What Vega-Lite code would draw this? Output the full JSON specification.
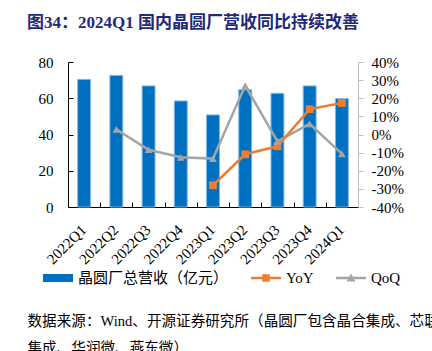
{
  "$schema": "https://vega.github.io/schema/vega-lite/v6.json",
  "width": 290,
  "height": 145,
  "autosize": {"type": "none"},
  "padding": {"left": 68, "top": 62, "right": 74, "bottom": 144},
  "title": {
    "text": "图34：2024Q1 国内晶圆厂营收同比持续改善",
    "anchor": "start",
    "frame": "group",
    "dx": -41,
    "offset": 23,
    "fontSize": 17,
    "fontWeight": "bold",
    "color": "#1F2A7A",
    "font": "Liberation Serif, Noto Sans CJK SC"
  },
  "data": {
    "values": [
      {"q": "2022Q1", "rev": 70.4, "YoY": null, "QoQ": null},
      {"q": "2022Q2", "rev": 72.6, "YoY": null, "QoQ": 2.8},
      {"q": "2022Q3", "rev": 66.8, "YoY": null, "QoQ": -8.4},
      {"q": "2022Q4", "rev": 58.5, "YoY": null, "QoQ": -12.6},
      {"q": "2023Q1", "rev": 50.8, "YoY": -28.0, "QoQ": -13.3},
      {"q": "2023Q2", "rev": 64.7, "YoY": -10.9, "QoQ": 27.0},
      {"q": "2023Q3", "rev": 62.7, "YoY": -6.5, "QoQ": -3.8},
      {"q": "2023Q4", "rev": 66.8, "YoY": 14.0, "QoQ": 5.9},
      {"q": "2024Q1", "rev": 59.8, "YoY": 17.4, "QoQ": -10.7}
    ]
  },
  "layer": [
    {
      "mark": {"type": "bar", "stroke": "#7FB4E3", "strokeWidth": 1},
      "encoding": {
        "x": {
          "field": "q",
          "type": "nominal",
          "sort": null,
          "scale": {"paddingInner": 0.6, "paddingOuter": 0.3},
          "axis": {
            "title": ["数据来源：Wind、开源证券研究所（晶圆厂包含晶合集成、芯联", "集成、华润微、燕东微）"],
            "titleX": -41,
            "titleY": 106,
            "titleAlign": "left",
            "titleAnchor": "start",
            "titleBaseline": "top",
            "titleFontSize": 14.6,
            "titleFontWeight": "normal",
            "titleLineHeight": 27,
            "titleColor": "#000000",
            "labelAngle": -45,
            "tickOffset": 16.1,
            "labelOffset": -22,
            "tickSize": -5,
            "labelPadding": 20,
            "domainColor": "#000000",
            "tickColor": "#000000"
          }
        },
        "y": {
          "field": "rev",
          "type": "quantitative",
          "scale": {"domain": [0, 80]},
          "axis": {
            "title": null,
            "values": [0, 20, 40, 60, 80],
            "tickSize": -5,
            "labelPadding": 20,
            "domainColor": "#000000",
            "tickColor": "#000000"
          }
        },
        "color": {
          "datum": "晶圆厂总营收（亿元）",
          "scale": {
            "domain": ["晶圆厂总营收（亿元）", "YoY", "QoQ"],
            "range": ["#0070C0", "#ED7D31", "#A5A5A5"]
          },
          "legend": {
            "orient": "none",
            "direction": "horizontal",
            "legendX": -25,
            "legendY": 201,
            "title": null,
            "labelFont": "Liberation Serif, Noto Sans CJK SC",
            "labelFontSize": 15,
            "labelColor": "#000000",
            "labelOffset": 5,
            "columnPadding": 22,
            "symbolSize": 900,
            "labelLimit": 300,
            "encode": {
              "symbols": {
                "update": {
                  "shape": {"signal": "datum.value === 'YoY' ? 'M-1,-0.08H1V0.08H-1Z M-0.25,-0.25H0.25V0.25H-0.25Z' : datum.value === 'QoQ' ? 'M-1,-0.08H1V0.08H-1Z M-0.3,0.24L0,-0.3L0.3,0.24Z' : 'M-1,-0.27H1V0.27H-1Z'"},
                  "fill": {"scale": "color", "field": "value"},
                  "stroke": {"value": "transparent"},
                  "strokeWidth": {"value": 0},
                  "opacity": {"value": 1}
                }
              }
            }
          }
        }
      }
    },
    {
      "transform": [
        {"fold": ["YoY", "QoQ"], "as": ["series", "rate"]},
        {"filter": "isValid(datum.rate)"}
      ],
      "layer": [
        {
          "mark": {"type": "line", "strokeWidth": 2.5},
          "encoding": {
            "x": {"field": "q", "type": "nominal", "sort": null},
            "y": {
              "field": "rate",
              "type": "quantitative",
              "scale": {"domain": [-40, 40]},
              "axis": {
                "orient": "right",
                "title": null,
                "values": [-40, -30, -20, -10, 0, 10, 20, 30, 40],
                "labelExpr": "datum.value + '%'",
                "labelOverlap": false,
                "tickSize": 5,
                "labelPadding": 8,
                "domainColor": "#BFBFBF",
                "tickColor": "#BFBFBF"
              }
            },
            "color": {
              "field": "series",
              "type": "nominal",
              "legend": {
                "orient": "none",
                "direction": "horizontal",
                "legendX": -25,
                "legendY": 201,
                "title": null,
                "labelFont": "Liberation Serif, Noto Sans CJK SC",
                "labelFontSize": 15,
                "labelColor": "#000000",
                "labelOffset": 5,
                "columnPadding": 22,
                "symbolSize": 900,
                "labelLimit": 300,
                "encode": {
                  "symbols": {
                    "update": {
                      "shape": {"signal": "datum.value === 'YoY' ? 'M-1,-0.08H1V0.08H-1Z M-0.25,-0.25H0.25V0.25H-0.25Z' : datum.value === 'QoQ' ? 'M-1,-0.08H1V0.08H-1Z M-0.3,0.24L0,-0.3L0.3,0.24Z' : 'M-1,-0.27H1V0.27H-1Z'"},
                      "fill": {"scale": "color", "field": "value"},
                      "stroke": {"value": "transparent"},
                      "strokeWidth": {"value": 0},
                      "opacity": {"value": 1}
                    }
                  }
                }
              }
            }
          }
        },
        {
          "mark": {"type": "point", "filled": true, "opacity": 1, "size": 60},
          "encoding": {
            "x": {"field": "q", "type": "nominal", "sort": null},
            "y": {
              "field": "rate",
              "type": "quantitative",
              "axis": {
                "orient": "right",
                "title": null,
                "values": [-40, -30, -20, -10, 0, 10, 20, 30, 40],
                "labelExpr": "datum.value + '%'",
                "labelOverlap": false,
                "tickSize": 5,
                "labelPadding": 8,
                "domainColor": "#BFBFBF",
                "tickColor": "#BFBFBF"
              }
            },
            "color": {
              "field": "series",
              "type": "nominal",
              "legend": {
                "orient": "none",
                "direction": "horizontal",
                "legendX": -25,
                "legendY": 201,
                "title": null,
                "labelFont": "Liberation Serif, Noto Sans CJK SC",
                "labelFontSize": 15,
                "labelColor": "#000000",
                "labelOffset": 5,
                "columnPadding": 22,
                "symbolSize": 900,
                "labelLimit": 300,
                "encode": {
                  "symbols": {
                    "update": {
                      "shape": {"signal": "datum.value === 'YoY' ? 'M-1,-0.08H1V0.08H-1Z M-0.25,-0.25H0.25V0.25H-0.25Z' : datum.value === 'QoQ' ? 'M-1,-0.08H1V0.08H-1Z M-0.3,0.24L0,-0.3L0.3,0.24Z' : 'M-1,-0.27H1V0.27H-1Z'"},
                      "fill": {"scale": "color", "field": "value"},
                      "stroke": {"value": "transparent"},
                      "strokeWidth": {"value": 0},
                      "opacity": {"value": 1}
                    }
                  }
                }
              }
            },
            "shape": {
              "field": "series",
              "type": "nominal",
              "scale": {"domain": ["YoY", "QoQ"], "range": ["square", "triangle-up"]},
              "legend": null
            }
          }
        }
      ]
    }
  ],
  "resolve": {"scale": {"y": "independent"}},
  "config": {
    "font": "Liberation Serif, Noto Sans CJK SC",
    "view": {"stroke": null},
    "axis": {
      "grid": false,
      "labelFont": "Liberation Serif, Noto Sans CJK SC",
      "labelFontSize": 15,
      "labelColor": "#000000",
      "titleFont": "Liberation Serif, Noto Sans CJK SC"
    }
  }
}
